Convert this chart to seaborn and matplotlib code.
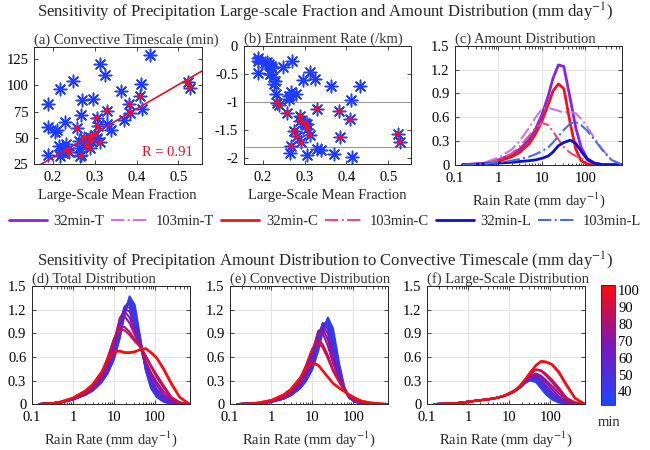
import numpy as np
import pandas as pd
import matplotlib
matplotlib.use("Agg")
import matplotlib.pyplot as plt
import matplotlib.colors as mcolors
from matplotlib.lines import Line2D
import seaborn as sns

# ============================
# Scatter data (one entry per run)
# ============================
# runs inside the entrainment band (red dots)
sel_frac = [0.522, 0.527, 0.408, 0.383, 0.385, 0.330, 0.305, 0.307, 0.312, 0.300,
            0.290, 0.288, 0.292, 0.275, 0.281, 0.268, 0.258, 0.240, 0.235]
sel_tau = [103, 98, 90, 82, 74, 76, 69, 61, 46, 53, 51, 40, 47, 50, 43, 33, 59, 36, 38]
sel_ent = [-1.57, -1.71, -1.31, -1.16, -1.63, -1.12, -1.40, -1.48, -1.59, -1.38,
           -1.25, -1.34, -1.72, -1.51, -1.61, -1.78, -1.19, -1.06, -1.01]

# other runs (blue only)
oth_frac = [0.432, 0.312, 0.325, 0.248, 0.218, 0.410, 0.362, 0.296, 0.270, 0.190,
            0.268, 0.230, 0.188, 0.210, 0.413, 0.370, 0.340, 0.330, 0.262, 0.280,
            0.305, 0.190, 0.215, 0.220, 0.225, 0.218, 0.228, 0.232, 0.265, 0.262,
            0.205, 0.222]
oth_tau = [129, 121, 110, 104, 97, 101, 95, 87, 86, 82,
           72, 65, 60, 57, 77, 67, 57, 63, 47, 45,
           50, 33, 42, 38, 35, 32, 40, 44, 32, 40,
           55, 36]
oth_ent = [-0.72, -0.46, -0.59, -0.38, -0.50, -0.96, -0.71, -0.60, -0.27, -0.49,
           -0.82, -0.62, -0.22, -0.29, -1.98, -1.92, -1.86, -1.83, -0.90, -0.85,
           -1.95, -0.27, -0.32, -0.35, -0.55, -0.50, -0.68, -0.86, -1.90, -0.95,
           -0.30, -0.40]

# ============================
# Amount distributions
# ============================
rain_rate = [0.15, 0.3, 0.5, 1, 2, 3, 5, 7, 10, 14, 18, 24, 32, 45, 60, 80, 110, 160, 250, 400, 700]

# panel (c): 32 min and 103 min runs
c32_conv = [0, .005, .01, .04, .10, .15, .26, .38, .55, .76, .93, 1.02, .96, .52, .20, .05, .01, 0, 0, 0, 0]
c32_ls = [0, .005, .01, .02, .03, .04, .05, .06, .08, .11, .16, .24, .28, .31, .27, .17, .07, .02, 0, 0, 0]
c103_conv = [0, .01, .02, .06, .14, .22, .36, .46, .53, .50, .42, .32, .22, .15, .11, .08, .05, .02, .01, 0, 0]
c103_ls = [0, .005, .01, .03, .05, .07, .10, .13, .17, .22, .28, .36, .44, .52, .54, .50, .43, .32, .18, .06, 0]

# panels (d)-(f): one curve per convective timescale
curve_tau = [32, 36, 40, 43, 47, 51, 59, 69, 76, 82, 90, 98, 103]
conv_amount = [
    [0, .005, .01, .03, .07, .11, .20, .29, .44, .68, .92, 1.10, .96, .52, .22, .08, .03, .01, 0, 0, 0],
    [0, .005, .01, .03, .07, .11, .20, .30, .46, .71, .95, 1.08, .90, .48, .21, .08, .03, .01, 0, 0, 0],
    [0, .005, .01, .03, .07, .12, .21, .31, .48, .75, .99, 1.06, .85, .45, .20, .08, .03, .01, 0, 0, 0],
    [0, .005, .01, .03, .07, .12, .21, .32, .50, .78, 1.02, 1.04, .80, .42, .19, .08, .03, .01, 0, 0, 0],
    [0, .005, .01, .03, .08, .12, .22, .33, .52, .82, 1.03, 1.00, .75, .40, .19, .08, .03, .01, 0, 0, 0],
    [0, .005, .01, .03, .08, .13, .23, .35, .55, .86, 1.02, .96, .70, .38, .18, .08, .04, .01, 0, 0, 0],
    [0, .005, .01, .03, .08, .13, .24, .37, .58, .90, 1.00, .90, .64, .36, .18, .09, .04, .02, 0, 0, 0],
    [0, .005, .01, .04, .08, .14, .26, .40, .63, .93, .96, .82, .58, .34, .18, .10, .05, .02, .01, 0, 0],
    [0, .005, .01, .04, .09, .15, .28, .43, .67, .92, .90, .74, .52, .32, .18, .10, .05, .02, .01, 0, 0],
    [0, .005, .01, .04, .09, .16, .31, .48, .70, .82, .76, .62, .44, .29, .18, .11, .06, .03, .01, 0, 0],
    [0, .005, .01, .04, .10, .17, .32, .49, .70, .78, .72, .58, .42, .28, .18, .11, .06, .03, .01, 0, 0],
    [0, .005, .02, .05, .12, .19, .33, .45, .53, .50, .43, .35, .27, .21, .16, .12, .08, .04, .02, .01, 0],
    [0, .005, .02, .05, .12, .19, .33, .45, .52, .49, .42, .34, .26, .20, .16, .12, .08, .04, .02, .01, 0],
]
ls_amount = [
    [0, .005, .01, .03, .05, .06, .08, .10, .13, .17, .21, .27, .30, .28, .20, .12, .06, .02, 0, 0, 0],
    [0, .005, .01, .03, .05, .06, .08, .10, .13, .17, .21, .27, .31, .30, .22, .13, .07, .03, .01, 0, 0],
    [0, .005, .01, .03, .05, .06, .08, .10, .13, .17, .21, .27, .31, .31, .24, .15, .08, .03, .01, 0, 0],
    [0, .005, .01, .03, .05, .06, .08, .10, .13, .17, .21, .27, .32, .32, .26, .17, .09, .04, .01, 0, 0],
    [0, .005, .01, .03, .05, .06, .08, .10, .13, .17, .21, .27, .32, .33, .27, .18, .10, .04, .01, 0, 0],
    [0, .005, .01, .03, .05, .06, .08, .10, .13, .17, .21, .27, .33, .34, .29, .20, .12, .05, .02, 0, 0],
    [0, .005, .01, .03, .05, .06, .08, .10, .13, .17, .21, .28, .34, .35, .31, .23, .15, .07, .02, 0, 0],
    [0, .005, .01, .03, .05, .06, .08, .10, .13, .17, .22, .28, .35, .37, .34, .27, .19, .10, .03, .01, 0],
    [0, .005, .01, .03, .05, .06, .08, .10, .13, .17, .22, .29, .36, .39, .36, .30, .23, .14, .05, .01, 0],
    [0, .005, .01, .03, .05, .06, .08, .10, .13, .17, .22, .30, .38, .44, .42, .36, .28, .18, .07, .02, 0],
    [0, .005, .01, .03, .05, .06, .08, .10, .13, .17, .22, .30, .38, .44, .43, .38, .31, .21, .08, .02, 0],
    [0, .005, .01, .03, .05, .06, .08, .10, .14, .18, .23, .31, .40, .49, .54, .53, .50, .40, .23, .07, 0],
    [0, .005, .01, .03, .05, .06, .08, .10, .14, .18, .23, .31, .40, .50, .55, .54, .51, .42, .25, .08, 0],
]

rate_ticks = [0.1, 1, 10, 100]
rate_ticklabels = ["0.1", "1", "10", "100"]
amount_ticks = [0, 0.3, 0.6, 0.9, 1.2, 1.5]
amount_ticklabels = ["0", "0.3", "0.6", "0.9", "1.2", "1.5"]
tau_ticks = [25, 50, 75, 100, 125]
ent_ticks = [0, -0.5, -1, -1.5, -2]
ent_ticklabels = ["0", "-0.5", "-1", "-1.5", "-2"]
frac_ticks = [0.2, 0.3, 0.4, 0.5]
cbar_ticks = [40, 50, 60, 70, 80, 90, 100]

# ============================
# Style
# ============================
sns.set_style("ticks")
plt.rcParams["font.family"] = ["Liberation Serif", "DejaVu Serif"]
plt.rcParams["mathtext.fontset"] = "stix"
plt.rcParams["axes.unicode_minus"] = False
plt.rcParams["axes.edgecolor"] = "#262626"
plt.rcParams["axes.linewidth"] = 0.7
plt.rcParams["xtick.color"] = "#262626"
plt.rcParams["ytick.color"] = "#262626"
plt.rcParams["xtick.labelcolor"] = "black"
plt.rcParams["ytick.labelcolor"] = "black"

BLUE = "#1f3dff"
RED = "#e8102a"
cmap = mcolors.LinearSegmentedColormap.from_list("tau", ["#1f45ff", "#7a18b8", "#ff0a0a"])
norm = mcolors.Normalize(vmin=32, vmax=103)

fig = plt.figure(figsize=(6.5, 4.5), dpi=100)

ax_a = fig.add_axes([0.052, 0.636, 0.258, 0.26])
ax_b = fig.add_axes([0.375, 0.636, 0.258, 0.262])
ax_c = fig.add_axes([0.700, 0.634, 0.257, 0.264])
ax_d = fig.add_axes([0.049, 0.102, 0.243, 0.262])
ax_e = fig.add_axes([0.354, 0.102, 0.243, 0.262])
ax_f = fig.add_axes([0.657, 0.102, 0.243, 0.262])
cax = fig.add_axes([0.925, 0.100, 0.0215, 0.267])

runs = pd.DataFrame({
    "frac": sel_frac + oth_frac,
    "tau": sel_tau + oth_tau,
    "ent": sel_ent + oth_ent,
    "sel": [True] * len(sel_frac) + [False] * len(oth_frac),
})
sel = runs[runs["sel"]]

# ============================
# (a) timescale vs large-scale fraction
# ============================
sns.scatterplot(data=runs, x="frac", y="tau", marker=(8, 2, 0), color=BLUE,
                s=80, linewidth=1.1, ax=ax_a, zorder=2)
sns.scatterplot(data=sel, x="frac", y="tau", marker="o", color=RED, s=18,
                edgecolor="none", ax=ax_a, zorder=3)
slope, icpt = np.polyfit(sel["frac"], sel["tau"], 1)
xfit = np.array([0.155, 0.555])
ax_a.plot(xfit, slope * xfit + icpt, color=RED, lw=1.2, zorder=4)
ax_a.text(0.535, 36, "R = 0.91", color=RED, ha="right", va="center", fontsize=10.5)
ax_a.set_xlim(0.155, 0.555)
ax_a.set_ylim(25, 137)
ax_a.set_yticks(tau_ticks)
ax_a.set_title("(a) Convective Timescale (min)", loc="left", fontsize=10.5, pad=2, color="#333333")

# ============================
# (b) entrainment vs large-scale fraction
# ============================
for lev in [-1, -1.8]:
    ax_b.axhline(lev, color="#999999", lw=0.8, zorder=1)
sns.scatterplot(data=runs, x="frac", y="ent", marker=(8, 2, 0), color=BLUE,
                s=80, linewidth=1.1, ax=ax_b, zorder=2)
sns.scatterplot(data=sel, x="frac", y="ent", marker="o", color=RED, s=18,
                edgecolor="none", ax=ax_b, zorder=3)
ax_b.set_xlim(0.155, 0.555)
ax_b.set_ylim(-2.1, 0)
ax_b.set_yticks(ent_ticks)
ax_b.set_yticklabels(ent_ticklabels)
ax_b.set_title("(b) Entrainment Rate (/km)", loc="left", fontsize=10.5, pad=2, color="#333333")

for ax in [ax_a, ax_b]:
    ax.set_xticks(frac_ticks)
    ax.set_xlabel("Large-Scale Mean Fraction", fontsize=10.5, labelpad=4)
    ax.set_ylabel("")
    ax.tick_params(direction="in", top=True, right=True, labelsize=10.5, length=3, width=0.6)
    ax.tick_params(axis="x", pad=5)
    ax.tick_params(axis="y", pad=4)

# ============================
# (c) amount distribution for 32 and 103 min
# ============================
c32_tot = [a + b for a, b in zip(c32_conv, c32_ls)]
c103_tot = [a + b for a, b in zip(c103_conv, c103_ls)]
c_series = [
    ("32min-T", c32_tot, "#8a22e6", "-", 2.0),
    ("103min-T", c103_tot, "#c677f0", "-.", 1.5),
    ("32min-C", c32_conv, "#f01414", "-", 2.0),
    ("103min-C", c103_conv, "#ee4a78", "-.", 1.5),
    ("32min-L", c32_ls, "#0a12d2", "-", 2.0),
    ("103min-L", c103_ls, "#4a6ae8", "-.", 1.5),
]
for label, vals, col, ls, lw in c_series:
    sns.lineplot(x=rain_rate, y=vals, color=col, linestyle=ls, lw=lw, ax=ax_c)
ax_c.set_title("(c) Amount Distribution", loc="left", fontsize=10.5, pad=2, color="#333333")

# ============================
# (d)-(f) curves coloured by timescale
# ============================
rows = []
for tau, conv, lsc in zip(curve_tau, conv_amount, ls_amount):
    for r, cv, lv in zip(rain_rate, conv, lsc):
        rows.append({"rate": r, "tau": tau, "conv": cv, "ls": lv, "total": cv + lv})
curves = pd.DataFrame(rows)

panel_info = [
    (ax_d, "total", "(d) Total Distribution"),
    (ax_e, "conv", "(e) Convective Distribution"),
    (ax_f, "ls", "(f) Large-Scale Distribution"),
]
for ax, col, title in panel_info:
    sns.lineplot(data=curves, x="rate", y=col, hue="tau", palette=cmap, hue_norm=norm,
                 estimator=None, legend=False, lw=1.5, ax=ax)
    ax.set_title(title, loc="left", fontsize=10.5, pad=2, color="#333333")

for ax in [ax_c, ax_d, ax_e, ax_f]:
    ax.set_xscale("log")
    ax.set_xlim(0.1, 700)
    ax.set_ylim(0, 1.5)
    ax.set_xticks(rate_ticks)
    ax.set_xticklabels(rate_ticklabels)
    ax.set_yticks(amount_ticks)
    ax.set_yticklabels(amount_ticklabels)
    ax.grid(True, which="major", color="#e3e3e3", lw=0.7)
    ax.set_axisbelow(True)
    ax.set_xlabel("Rain Rate (mm day$^{-1}$)", fontsize=10.5, labelpad=4)
    ax.set_ylabel("")
    ax.tick_params(which="both", direction="in", top=True, right=True, labelsize=10.5, width=0.6)
    ax.tick_params(which="major", length=3)
    ax.tick_params(which="minor", length=1.8)
    ax.tick_params(axis="x", which="both", pad=5)
    ax.tick_params(axis="y", which="both", pad=4)
    ax.tick_params(axis="y", which="minor", left=False, right=False)

# ============================
# colorbar
# ============================
cb = matplotlib.colorbar.ColorbarBase(cax, cmap=cmap, norm=norm)
cb.set_ticks(cbar_ticks)
cb.ax.tick_params(labelsize=10.5, length=0, pad=2)
cb.outline.set_linewidth(0.6)
fig.text(0.937, 0.06, "min", ha="center", va="center", fontsize=10.5)

# ============================
# legend and titles
# ============================
handles = [Line2D([0], [0], color=col, linestyle=ls, lw=lw) for _, _, col, ls, lw in c_series]
labels = [s[0] for s in c_series]
fig.legend(handles, labels, loc="center", bbox_to_anchor=(0.5, 0.507), ncol=6, frameon=False,
           handlelength=2.6, columnspacing=0.5, handletextpad=0.45, fontsize=10.5,
           borderpad=0.1, borderaxespad=0.1)

fig.text(0.5, 0.972, "Sensitivity of Precipitation Large-scale Fraction and Amount Distribution (mm day$^{-1}$)",
         ha="center", va="center", fontsize=12)
fig.text(0.5, 0.418, "Sensitivity of Precipitation Amount Distribution to Convective Timescale (mm day$^{-1}$)",
         ha="center", va="center", fontsize=12)

fig.savefig("out.png", dpi=100)
